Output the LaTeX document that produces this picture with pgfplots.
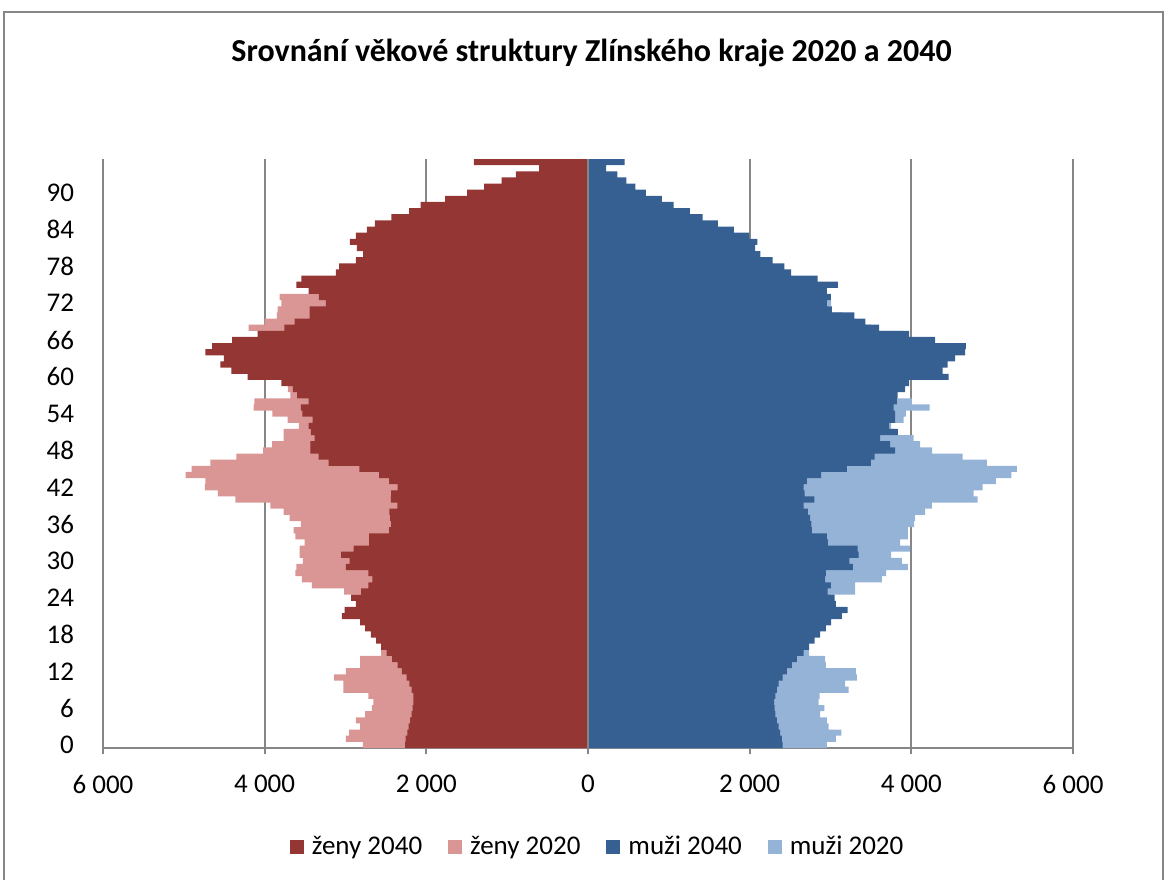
\documentclass[border=0pt]{standalone}
\usepackage{fontspec}
\setmainfont{Carlito}
\usepackage{pgfplots}
\usepackage{pgfplotstable}
\pgfplotsset{compat=1.18}
\definecolor{fzd}{HTML}{943634}
\definecolor{fzl}{HTML}{D99694}
\definecolor{mzd}{HTML}{376092}
\definecolor{mzl}{HTML}{95B3D7}
\definecolor{gridgray}{HTML}{868686}
\pgfplotstableread{
age fd fl md ml
0 2263 2786 2407 2955
1 2255 2996 2399 3067
2 2235 2955 2378 3133
3 2218 2819 2358 2976
4 2202 2872 2337 2955
5 2181 2757 2317 2873
6 2169 2675 2308 2923
7 2160 2654 2304 2852
8 2160 2716 2317 2865
9 2181 3025 2337 3223
10 2210 3025 2358 3182
11 2243 3140 2407 3326
12 2304 2996 2461 3314
13 2354 2819 2523 2943
14 2424 2819 2585 2935
15 2490 2560 2667 2737
16 2560 2450 2737 2650
17 2621 2420 2803 2600
18 2687 2400 2873 2580
19 2757 2450 2943 2600
20 2819 2500 3009 2700
21 3045 2600 3141 2800
22 3012 2650 3211 2900
23 2872 2750 3067 2950
24 2930 2800 3050 3000
25 2806 3016 2964 3306
26 2716 3415 3005 3306
27 2667 3539 2935 3636
28 2716 3621 2943 3689
29 2996 3609 3277 3957
30 2950 3527 3232 3883
31 3053 3568 3347 3751
32 2901 3568 3335 3986
33 2708 3506 2968 3862
34 2708 3621 2955 3957
35 2461 3642 2770 3957
36 2436 3551 2762 4036
37 2448 3691 2749 4048
38 2457 3765 2720 4171
39 2358 3930 2667 4254
40 2440 4362 2799 4820
41 2436 4580 2679 4771
42 2354 4741 2667 4882
43 2461 4732 2708 5047
44 2584 4979 2885 5237
45 2827 4905 3203 5307
46 3210 4671 3500 4936
47 3333 4350 3545 4635
48 3436 4020 3800 4256
49 3436 3909 3739 4110
50 3383 3765 3615 4027
51 3428 3765 3834 3800
52 3457 3576 3726 3750
53 3407 3716 3800 3904
54 3535 3905 3800 3932
55 3551 4136 3780 4225
56 3457 4127 3820 4007
57 3600 3683 3829 3750
58 3650 3712 3924 3800
59 3794 3700 3974 3850
60 4210 3800 4460 3900
61 4411 3900 4386 4000
62 4547 4000 4448 4050
63 4506 4100 4542 4100
64 4732 4200 4666 4150
65 4650 4100 4674 4100
66 4403 4000 4295 4000
67 4086 3950 3974 3900
68 3757 4197 3603 3500
69 3629 4000 3430 3300
70 3444 3848 3294 3150
71 3444 3839 3017 2980
72 3243 3794 2955 3009
73 3329 3815 3005 2900
74 3457 3300 2955 2700
75 3609 3200 3091 2500
76 3547 2700 2840 2200
77 3119 2700 2514 2200
78 3078 2600 2428 2100
79 2872 2450 2284 1950
80 2782 2350 2131 1800
81 2860 2250 2069 1650
82 2946 2300 2094 1600
83 2872 2200 1995 1450
84 2736 2050 1805 1300
85 2638 1850 1608 1150
86 2432 1650 1418 1000
87 2214 1450 1261 850
88 2070 1250 1059 700
89 1769 1000 915 550
90 1494 800 717 400
91 1284 600 585 300
92 1070 450 474 220
93 893 320 363 150
94 605 230 223 100
95 1411 400 453 200
}\data

\begin{document}
\begin{tikzpicture}
\useasboundingbox (0,0) rectangle (582.5pt,439.5pt);
\draw[gridgray, line width=0.7pt] (2pt,-2pt) -- (2pt,433.5pt) -- (581.5pt,433.5pt) -- (581.5pt,-2pt);
\node[anchor=base, font=\fontsize{16}{19}\selectfont\bfseries] at (295.75pt,408.5pt) {Srovnání věkové struktury Zlínského kraje 2020 a 2040};
\begin{axis}[
  at={(51.5pt,65.5pt)}, anchor=south west,
  scale only axis, width=485pt, height=294.5pt,
  xmin=-6000, xmax=6000, ymin=-0.5, ymax=95.5,
  xbar, bar width=1, bar shift=0pt,
  xtick={-6000,-4000,-2000,0,2000,4000,6000},
  xticklabels={6 000,4 000,2 000,0,2 000,4 000,6 000},
  ytick={0,6,...,90},
  /pgf/number format/assume math mode=true,
  tick label style={font=\fontsize{13.5}{16}\selectfont},
  xticklabel style={yshift=-7pt},
  yticklabel style={xshift=-8pt},
  xmajorgrids,
  major grid style={draw=gridgray, line width=0.9pt},
  axis x line*=bottom,
  axis y line*=left,
  x axis line style={draw=gridgray, line width=0.9pt, -},
  y axis line style={draw=none},
  ytick style={draw=none},
  xtick style={draw=gridgray, line width=0.9pt},
  tick align=outside, major tick length=3pt,
  legend image code/.code={\fill[#1] (0pt,-3.5pt) rectangle (7pt,3.5pt); \path (9pt,0pt);},
  legend style={at={(0.511,-0.168)}, anchor=center, legend columns=4, draw=none,
    font=\fontsize{13.5}{16}\selectfont,
    /tikz/every even column/.append style={column sep=11pt}},
  legend cell align=left,
]
\addlegendimage{fill=fzd, draw=none}
\addlegendentry{ženy 2040}
\addlegendimage{fill=fzl, draw=none}
\addlegendentry{ženy 2020}
\addlegendimage{fill=mzd, draw=none}
\addlegendentry{muži 2040}
\addlegendimage{fill=mzl, draw=none}
\addlegendentry{muži 2020}
\addplot[xbar, fill=fzl, draw=none, forget plot] table[x expr=-\thisrow{fl}, y=age] {\data};
\addplot[xbar, fill=fzd, draw=none, forget plot] table[x expr=-\thisrow{fd}, y=age] {\data};
\addplot[xbar, fill=mzl, draw=none, forget plot] table[x=ml, y=age] {\data};
\addplot[xbar, fill=mzd, draw=none, forget plot] table[x=md, y=age] {\data};
\draw[gridgray, line width=0.6pt] (axis cs:0,-0.5) -- (axis cs:0,95.5);
\end{axis}
\end{tikzpicture}
\end{document}
